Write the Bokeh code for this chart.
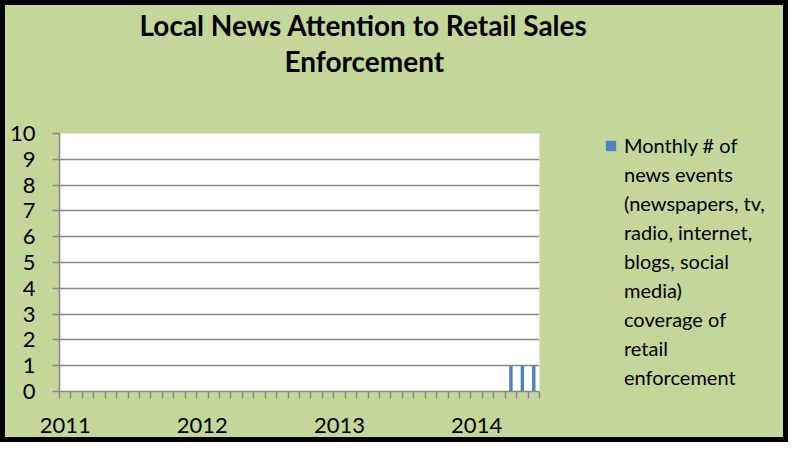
from bokeh.plotting import figure
from bokeh.models import Range1d, FixedTicker, Legend, LegendItem, ColumnDataSource, Title
from bokeh.layouts import row
from bokeh.embed import file_html
from bokeh.resources import INLINE

# ---- data ----
title_lines = ["Local News Attention to Retail Sales", "Enforcement"]
series_lines = ["Monthly # of", "news events", "(newspapers, tv,", "radio, internet,",
                "blogs, social", "media)", "coverage of", "retail", "enforcement"]
months = ["2011-01", "2011-02", "2011-03", "2011-04", "2011-05", "2011-06",
          "2011-07", "2011-08", "2011-09", "2011-10", "2011-11", "2011-12",
          "2012-01", "2012-02", "2012-03", "2012-04", "2012-05", "2012-06",
          "2012-07", "2012-08", "2012-09", "2012-10", "2012-11", "2012-12",
          "2013-01", "2013-02", "2013-03", "2013-04", "2013-05", "2013-06",
          "2013-07", "2013-08", "2013-09", "2013-10", "2013-11", "2013-12",
          "2014-01", "2014-02", "2014-03", "2014-04", "2014-05", "2014-06"]
events = [0, 0, 0, 0, 0, 0, 0, 0, 0, 0, 0, 0,
          0, 0, 0, 0, 0, 0, 0, 0, 0, 0, 0, 0,
          0, 0, 0, 0, 0, 0, 0, 0, 0, 0, 0, 0,
          0, 0, 0, 1, 1, 1]
year_labels = ["2011", "2012", "2013", "2014"]
year_first_month = ["2011-01", "2012-01", "2013-01", "2014-01"]
y_ticks = [0, 1, 2, 3, 4, 5, 6, 7, 8, 9, 10]

GREEN = "#C4D79B"
GRAY = "#868686"
BLUE = "#4F81BD"
FONT = "Lato"

idx = list(range(len(months)))
src = ColumnDataSource(dict(x=idx, top=events, month=months))

# ---- chart ----
p = figure(frame_width=480, frame_height=258, output_backend="svg",
           toolbar_location=None,
           x_range=Range1d(-0.5, len(months) - 0.5), y_range=Range1d(0, 10),
           min_border_left=54, min_border_right=52, min_border_top=128,
           min_border_bottom=46)
p.background_fill_color = "white"
p.border_fill_color = GREEN
p.outline_line_color = None

p.vbar(x="x", top="top", width=0.3, bottom=0, source=src,
       fill_color=BLUE, line_color=None)

year_pos = [months.index(m) for m in year_first_month]
p.xaxis.ticker = FixedTicker(ticks=year_pos,
                             minor_ticks=[i - 0.5 for i in range(len(months) + 1)])
p.xaxis.major_label_overrides = {pos: lab for pos, lab in zip(year_pos, year_labels)}
p.xaxis.major_tick_in = 0
p.xaxis.major_tick_out = 0
p.xaxis.minor_tick_in = 0
p.xaxis.minor_tick_out = 7
p.xaxis.minor_tick_line_color = GRAY
p.xaxis.minor_tick_line_width = 1.5
p.xaxis.axis_line_color = GRAY
p.xaxis.axis_line_width = 1.5
p.xaxis.major_label_standoff = 19
p.xaxis.major_label_text_font = FONT
p.xaxis.major_label_text_font_size = "22px"
p.xaxis.major_label_text_color = "black"

p.yaxis.ticker = FixedTicker(ticks=y_ticks, minor_ticks=[])
p.yaxis.major_tick_in = 0
p.yaxis.major_tick_out = 7
p.yaxis.major_tick_line_color = GRAY
p.yaxis.major_tick_line_width = 1.5
p.yaxis.minor_tick_line_color = None
p.yaxis.axis_line_color = GRAY
p.yaxis.axis_line_width = 1.5
p.yaxis.major_label_standoff = 17
p.yaxis.major_label_text_font = FONT
p.yaxis.major_label_text_font_size = "22px"
p.yaxis.major_label_text_color = "black"

p.xgrid.visible = False
p.ygrid.ticker = FixedTicker(ticks=y_ticks, minor_ticks=[])
p.ygrid.grid_line_color = GRAY
p.ygrid.grid_line_width = 1.5

# title block: blank spacer nearest the plot, then line 2, then line 1
title_style = dict(align="left", text_font=FONT, text_font_style="bold",
                   text_font_size="28px", text_color="black")
p.add_layout(Title(text=" ", offset=0, standoff=20, **title_style), "above")
p.add_layout(Title(text=title_lines[1], offset=225, standoff=0, **title_style), "above")
p.add_layout(Title(text=title_lines[0], offset=80, standoff=0, **title_style), "above")

# ---- legend strip ----
lf = figure(width=192, height=432, output_backend="svg", toolbar_location=None,
            x_range=Range1d(0, 1), y_range=Range1d(0, 1),
            x_axis_location=None, y_axis_location=None,
            min_border_left=0, min_border_right=0, min_border_top=128,
            min_border_bottom=46)
lf.background_fill_color = GREEN
lf.border_fill_color = GREEN
lf.outline_line_color = None
lf.xgrid.visible = False
lf.ygrid.visible = False
swatch = lf.vbar(x="x", top="top", width=0.3, bottom=0, source=src,
                 fill_color=BLUE, line_color=None)

items = [LegendItem(label=series_lines[0], renderers=[swatch])]
items += [LegendItem(label=s, renderers=[]) for s in series_lines[1:]]
legend = Legend(items=items, location=(13, 2), padding=0, margin=0, spacing=5,
                border_line_color=None, background_fill_alpha=0,
                glyph_width=13, glyph_height=13, label_standoff=7,
                label_text_font=FONT, label_text_font_size="20px",
                label_text_color="black")
lf.add_layout(legend)

layout = row(p, lf, spacing=0,
             styles={"background-color": GREEN, "border": "5px solid black"})

open("out.html", "w").write(file_html(layout, INLINE))
